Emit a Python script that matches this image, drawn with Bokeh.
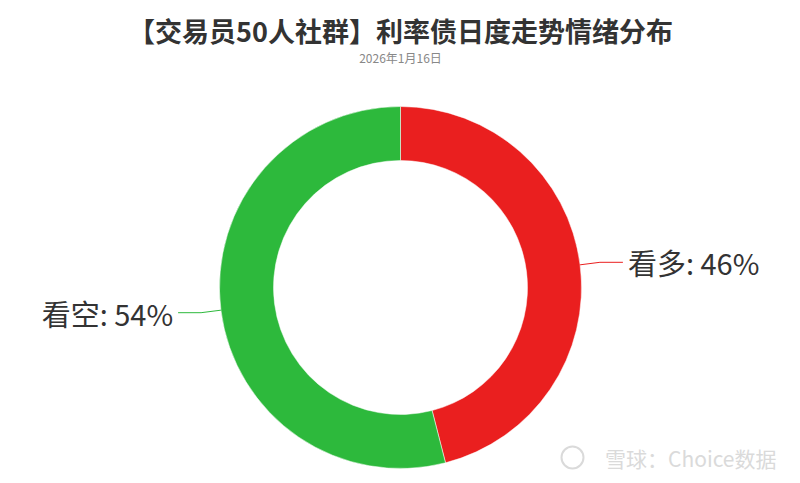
import numpy as np
from bokeh.plotting import figure
from bokeh.models import Range1d, ColumnDataSource
from bokeh.core.properties import value
from bokeh.embed import file_html
from bokeh.resources import INLINE

title_text = "【交易员50人社群】利率债日度走势情绪分布"
subtitle_text = "2026年1月16日"
categories = ["看多", "看空"]
values = [46, 54]
colors = ["#ea1f1f", "#2db93c"]
watermark = "雪球：Choice数据"

W, H = 784, 475
p = figure(width=W, height=H, output_backend="svg", toolbar_location=None,
           x_range=Range1d(0, W), y_range=Range1d(0, H),
           min_border=0, outline_line_color=None)
p.axis.visible = False
p.grid.visible = False
p.background_fill_color = "white"
p.border_fill_color = "white"

def Y(page_y):
    return H - page_y

def X(page_x):
    return page_x

cx, cy = X(400), Y(287)
r_out, r_in = 181, 127

vals = np.array(values, dtype=float)
frac = vals / vals.sum()
cum = np.concatenate([[0], np.cumsum(frac)])
# clockwise from top
start = np.pi / 2 - cum[1:] * 2 * np.pi
end = np.pi / 2 - cum[:-1] * 2 * np.pi
src = ColumnDataSource(dict(start=start, end=end, color=colors))
p.annular_wedge(x=cx, y=cy, inner_radius=r_in, outer_radius=r_out,
                inner_radius_units="screen", outer_radius_units="screen",
                start_angle="start", end_angle="end", direction="anticlock",
                fill_color="color", line_color="white", line_width=0.5, source=src)

# labels with leader lines
L1, L2 = 20, 23
for i, cat in enumerate(categories):
    mid = (start[i] + end[i]) / 2
    x0 = cx + r_out * np.cos(mid)
    y0 = cy + r_out * np.sin(mid)
    x1 = cx + (r_out + L1) * np.cos(mid)
    y1 = cy + (r_out + L1) * np.sin(mid)
    side = 1 if np.cos(mid) >= 0 else -1
    x2 = x1 + side * L2
    p.line([x0, x1, x2], [y0, y1, y1], line_color=colors[i], line_width=1)
    p.text(x=[x2 + side * 5], y=[y1], text=[f"{cat}: {values[i]}%"],
           text_align="left" if side > 0 else "right", text_baseline="middle",
           text_font=value("Noto Sans CJK SC"), text_font_size="29px",
           text_color="#333333")

p.text(x=[X(400)], y=[Y(30)], text=[title_text], text_align="center",
       text_baseline="middle", text_font=value("Noto Sans CJK SC"),
       text_font_size="27px", text_font_style="bold", text_color="#333333")
p.text(x=[X(400)], y=[Y(57)], text=[subtitle_text], text_align="center",
       text_baseline="middle", text_font=value("Noto Sans CJK SC"),
       text_font_size="12px", text_color="#888888")

# watermark
p.circle(x=[X(572)], y=[Y(457)], radius=11, radius_units="screen",
         fill_color=None, line_color="#dadada", line_width=2)
p.text(x=[X(776)], y=[Y(457)], text=[watermark], text_align="right",
       text_baseline="middle", text_font=value("Noto Sans CJK SC"),
       text_font_size="21px", text_color="#dadada")

open("out.html", "w").write(file_html(p, INLINE))
